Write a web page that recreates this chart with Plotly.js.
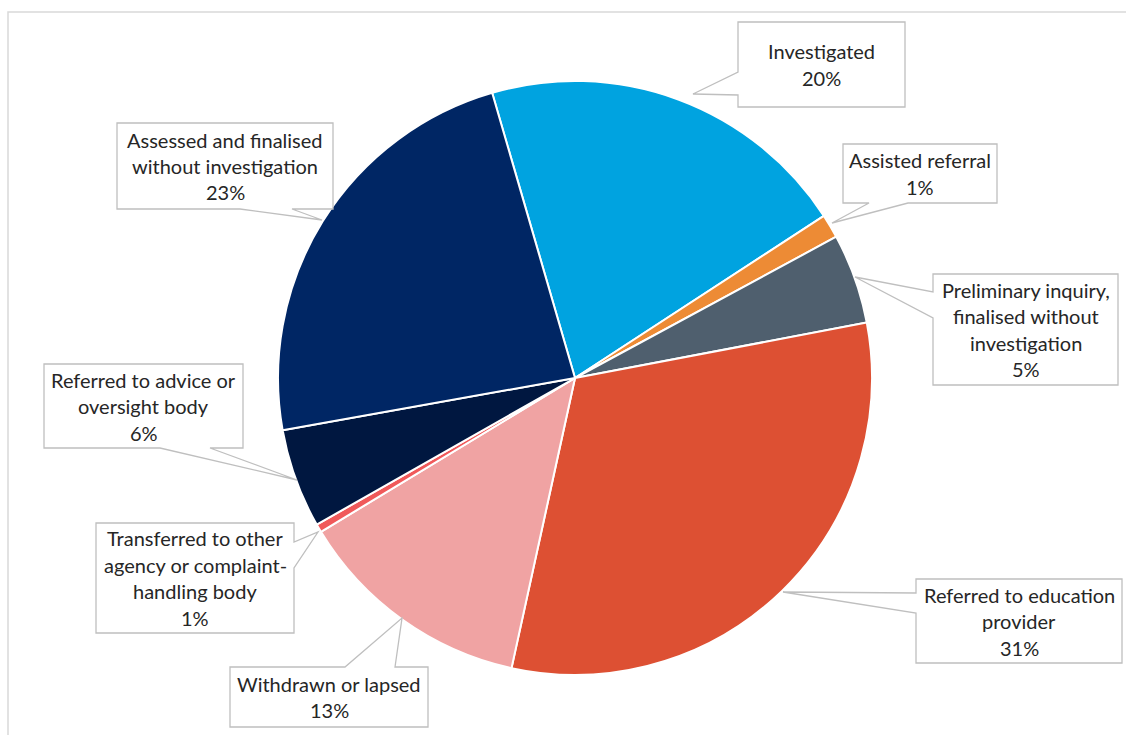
<!DOCTYPE html>
<html>
<head>
<meta charset="utf-8">
<script src="https://cdn.plot.ly/plotly-3.0.1.min.js"></script>
<style>html,body{margin:0;padding:0;background:#fff;}#chart{width:1126px;height:735px;}</style>
</head>
<body>
<div id="chart"></div>
<script>
// ---- data ----
const labels = [
  'Investigated',
  'Assisted referral',
  'Preliminary inquiry,<br>finalised without<br>investigation',
  'Referred to education<br>provider',
  'Withdrawn or lapsed',
  'Transferred to other<br>agency or complaint-<br>handling body',
  'Referred to advice or<br>oversight body',
  'Assessed and finalised<br>without investigation'
];
const values = [20.3, 1.3, 4.9, 31.4, 12.9, 0.45, 5.4, 23.3];
const pctLabels = ['20%', '1%', '5%', '31%', '13%', '1%', '6%', '23%'];
const colors = ['#00A3E0', '#ED8B35', '#4F5F6E', '#DD5033', '#F0A3A3', '#F0595A', '#001740', '#002664'];

// ---- layout of callouts (pixel positions) ----
const W = 1126, H = 735;
const callouts = [
  {box: [738, 22, 905, 107], side: 'left',   wedge: [72, 95],   tip: [693, 94]},
  {box: [843, 144, 997, 203], side: 'bottom', wedge: [869, 908], tip: [832, 223]},
  {box: [933, 274, 1118, 385], side: 'left',  wedge: [292, 318], tip: [855, 277]},
  {box: [916, 579, 1122, 663], side: 'left',  wedge: [593, 613], tip: [783, 592]},
  {box: [230, 667, 428, 727], side: 'top',    wedge: [345, 395], tip: [402, 618]},
  {box: [96, 523, 294, 633], side: 'right',   wedge: [542, 568], tip: [318, 532]},
  {box: [44, 364, 243, 448], side: 'bottom',  wedge: [160, 210], tip: [297, 480]},
  {box: [117, 123, 333, 209], side: 'bottom', wedge: [240, 292], tip: [322, 220]}
];
const pieCenter = [575, 378], pieR = 297;
const lineGap = 26.5;

const px = x => x / W;
const py = y => 1 - y / H;
const P = (x, y) => px(x).toFixed(5) + ',' + py(y).toFixed(5);

function calloutPath(c) {
  const [x0, y0, x1, y1] = c.box;
  const [a, b] = c.wedge;
  const t = c.tip;
  let d = 'M' + P(x0, y0);
  if (c.side === 'top') d += ' L' + P(a, y0) + ' L' + P(t[0], t[1]) + ' L' + P(b, y0);
  d += ' L' + P(x1, y0);
  if (c.side === 'right') d += ' L' + P(x1, a) + ' L' + P(t[0], t[1]) + ' L' + P(x1, b);
  d += ' L' + P(x1, y1);
  if (c.side === 'bottom') d += ' L' + P(b, y1) + ' L' + P(t[0], t[1]) + ' L' + P(a, y1);
  d += ' L' + P(x0, y1);
  if (c.side === 'left') d += ' L' + P(x0, b) + ' L' + P(t[0], t[1]) + ' L' + P(x0, a);
  return d + ' Z';
}

const shapes = [
  {type: 'rect', xref: 'paper', yref: 'paper', x0: px(8), y0: py(12), x1: px(1140), y1: py(760),
   line: {color: '#D9D9D9', width: 1.5}, fillcolor: 'rgba(0,0,0,0)', layer: 'below'}
];
const annotations = [];
callouts.forEach((c, i) => {
  shapes.push({type: 'path', xref: 'paper', yref: 'paper', path: calloutPath(c),
    line: {color: '#BFBFBF', width: 1.3}, fillcolor: '#FFFFFF', layer: 'above'});
  const lines = labels[i].split('<br>').concat([pctLabels[i]]);
  const cx = (c.box[0] + c.box[2]) / 2;
  const cy = (c.box[1] + c.box[3]) / 2;
  lines.forEach((ln, k) => {
    const y = cy + (k - (lines.length - 1) / 2) * lineGap;
    annotations.push({xref: 'paper', yref: 'paper', x: px(cx), y: py(y), text: ln,
      showarrow: false, xanchor: 'center', yanchor: 'middle',
      font: {family: 'Lato, sans-serif', size: 20, color: '#262626'}});
  });
});

const trace = {
  type: 'pie',
  labels: labels,
  values: values,
  sort: false,
  direction: 'clockwise',
  rotation: -16.2,
  textinfo: 'none',
  hoverinfo: 'label+percent',
  marker: {colors: colors, line: {color: '#FFFFFF', width: 2}},
  domain: {x: [px(pieCenter[0] - pieR), px(pieCenter[0] + pieR)],
           y: [py(pieCenter[1] + pieR), py(pieCenter[1] - pieR)]},
  showlegend: false
};

Plotly.newPlot('chart', [trace], {
  width: W, height: H,
  margin: {l: 0, r: 0, t: 0, b: 0},
  paper_bgcolor: '#FFFFFF',
  showlegend: false,
  shapes: shapes,
  annotations: annotations
}, {displayModeBar: false, staticPlot: true});
</script>
</body>
</html>
